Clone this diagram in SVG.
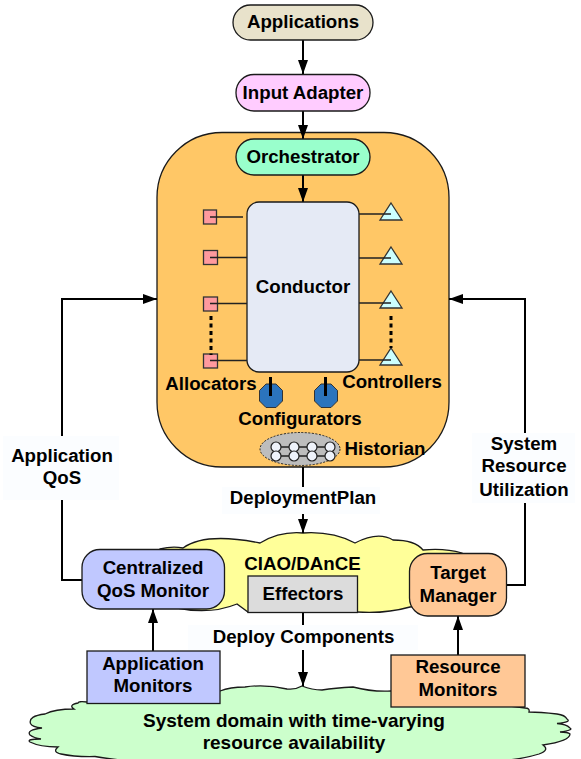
<svg xmlns="http://www.w3.org/2000/svg" width="581" height="759" viewBox="0 0 581 759">
<style>
text{font-family:"Liberation Sans",Arial,sans-serif;font-weight:bold;font-size:18.7px;fill:#000;text-anchor:middle}
.big{font-size:19px}
.b{stroke:#1a1a1a;stroke-width:1.3}
.c{fill:none;stroke:#000;stroke-width:2}
.l{stroke:#222;stroke-width:1.6;fill:none}
.al{fill:#ff9a9e;stroke:#333;stroke-width:1.3}
.tr{fill:#ccffff;stroke:#333;stroke-width:1.3}
.oc{fill:#2b74bd;stroke:#333;stroke-width:1}
.hc{fill:#eef2fa;stroke:#222;stroke-width:1.2}
.lab{fill:#fbfdff}
</style>
<defs><marker id="a" markerWidth="14" markerHeight="10" refX="14" refY="5" orient="auto" markerUnits="userSpaceOnUse" viewBox="0 0 14 10"><path d="M0 0L14 5L0 10Z" fill="#000"/></marker></defs>
<rect width="581" height="759" fill="#fff"/>
<g id="system-domain"><path class="b" fill="#ccffcc" d="M87 702Q78 701 78 703Q68 705 74 709Q55 709 45 714Q28 716 30.500 723.500Q32 727 42 728Q26 730 30 735Q34 738 41 739Q26 739 30 742Q40 747 58 747Q52 752 61 754Q75 757 95 756.500Q125 762 159 761L494 761Q520 760 539 754Q550 750 543 745Q570 741 570 734Q568 732 560 732Q574 730 570 728Q566 724 557 723.500Q572 722 567 719Q565 715 557 714Q540 712 529 712Q530 708 525 708L391 691Q372 692 353 687Q335 688 322 690Q312 690 302 686Q295 690 287 689Q265 684 245 687Q230 687 220 691Z"/><text class="big" x="294" y="727">System domain with time-varying</text><text class="big" x="294" y="749">resource availability</text></g>
<g id="ciao-dance"><path class="b" fill="#ffff99" d="M160 549Q172 546 183 548Q205 532 260 543Q280 531 303 533Q332 531 355 543Q378 531 393 540Q415 540 423 550Q445 548 462 553L462 600L410 607Q385 614 357 612L248 612L237 604Q210 615 177 608L160 605Z"/><text x="302.500" y="570">CIAO/DAnCE</text></g>
<g id="main-panel"><rect x="157" y="132.500" width="292" height="334.500" rx="65" ry="65" fill="#ffc766" stroke="#1a1a1a" stroke-width="1.3"/></g>
<g id="connectors">
<path class="c" marker-end="url(#a)" d="M303 40V74"/>
<path class="c" marker-end="url(#a)" d="M303 111V139"/>
<path class="c" marker-end="url(#a)" d="M303 175V202"/>
<path class="c" d="M303 467V490"/>
<path class="c" marker-end="url(#a)" d="M303 514V533"/>
<path class="c" d="M303 612V625"/>
<path class="c" marker-end="url(#a)" d="M303 650V686"/>
<path class="c" marker-end="url(#a)" d="M82 580H62V299H157"/>
<path class="c" marker-end="url(#a)" d="M507 585H525V299H449"/>
<path class="c" marker-end="url(#a)" d="M153 651V609"/>
<path class="c" marker-end="url(#a)" d="M458 655V616"/>
</g>
<g id="applications"><rect class="b" x="233" y="5" width="140" height="35" rx="17.500" fill="#e8e2cb"/><text x="303" y="28">Applications</text></g>
<g id="input-adapter"><rect class="b" x="236" y="74.500" width="134" height="36.500" rx="18" fill="#ffccff"/><text x="303" y="99">Input Adapter</text></g>
<g id="orchestrator"><rect class="b" x="236" y="139" width="134" height="36" rx="18" fill="#99ffcc"/><text x="303" y="163">Orchestrator</text></g>
<g id="conductor"><rect class="b" x="247" y="202" width="112" height="170" rx="12" fill="#e5eaf5"/><text x="303" y="293">Conductor</text></g>
<g id="allocators">
<rect class="al" x="203.500" y="210" width="13" height="14"/><rect class="al" x="203.500" y="250.500" width="14" height="14"/><rect class="al" x="203.500" y="297" width="14" height="14"/><rect class="al" x="203.500" y="354" width="14" height="14"/>
<path class="l" d="M210 217H243M210 257.500H247M210 303.500H247M210 360.500H247"/>
<path d="M211 316V355" fill="none" stroke="#000" stroke-width="3" stroke-dasharray="4 3.500"/>
<text x="211" y="390">Allocators</text></g>
<g id="controllers">
<path class="tr" d="M391 203L402 220H380Z"/><path class="tr" d="M391 247L402 264H380Z"/><path class="tr" d="M391 291L402 308H380Z"/><path class="tr" d="M391 348L402 365H380Z"/>
<path class="l" d="M359 214H391M359 258H391M359 303H391M359 360H391"/>
<path d="M391 316V348" fill="none" stroke="#000" stroke-width="3" stroke-dasharray="4 3.500"/>
<text x="392" y="388">Controllers</text></g>
<g id="configurators">
<path class="oc" d="M266 384H276L282.500 390.500V401L276 407.500H266L259.500 401V390.500Z"/><path class="oc" d="M321 384H331L337.500 390.500V401L331 407.500H321L314.500 401V390.500Z"/>
<path d="M270.500 377V396M325.500 377V396" stroke="#000" stroke-width="3" fill="none"/>
<text x="300" y="425">Configurators</text></g>
<g id="historian">
<ellipse cx="300" cy="449" rx="40" ry="16.500" fill="#bdbdbd" stroke="#222" stroke-width="1" stroke-dasharray="2 1.500"/>
<path class="l" d="M276 447H330M276 456H330M276 447V456M294 447V456M312 447V456M330 447V456"/>
<circle class="hc" cx="276" cy="447" r="5"/><circle class="hc" cx="294" cy="447" r="5"/><circle class="hc" cx="312" cy="447" r="5"/><circle class="hc" cx="330" cy="447" r="5"/>
<circle class="hc" cx="276" cy="456" r="5"/><circle class="hc" cx="294" cy="456" r="5"/><circle class="hc" cx="312" cy="456" r="5"/><circle class="hc" cx="330" cy="456" r="5"/>
<text x="385" y="455">Historian</text></g>
<g id="label-application-qos"><rect class="lab" x="3" y="436" width="116" height="64"/><text x="62" y="462">Application</text><text x="62" y="484">QoS</text></g>
<g id="label-resource-utilization"><rect class="lab" x="472" y="433" width="103" height="70"/><text x="524" y="450">System</text><text x="524" y="472">Resource</text><text x="524" y="496">Utilization</text></g>
<g id="label-deployment-plan"><rect class="lab" x="222" y="487" width="158" height="27"/><text x="303" y="504">DeploymentPlan</text></g>
<g id="label-deploy-components"><rect class="lab" x="188" y="625" width="230" height="25"/><text x="303.500" y="643">Deploy Components</text></g>
<g id="centralized-qos-monitor"><rect class="b" x="82" y="549.500" width="142.500" height="59.500" rx="18" fill="#c0c8ff"/><text x="153" y="574">Centralized</text><text x="153" y="597">QoS Monitor</text></g>
<g id="effectors"><rect class="b" x="248" y="576" width="109.500" height="36.500" fill="#dcdcdc"/><text x="303" y="600">Effectors</text></g>
<g id="target-manager"><rect class="b" x="409.500" y="553.500" width="97" height="62.500" rx="18" fill="#ffc896"/><text x="458" y="579">Target</text><text x="458" y="602">Manager</text></g>
<g id="application-monitors"><rect class="b" x="87" y="651" width="133" height="52.500" fill="#c0c8ff"/><text x="153" y="670">Application</text><text x="153" y="692">Monitors</text></g>
<g id="resource-monitors"><rect class="b" x="391" y="655" width="134" height="52" fill="#ffc896"/><text x="458" y="673">Resource</text><text x="458" y="696">Monitors</text></g>
</svg>
